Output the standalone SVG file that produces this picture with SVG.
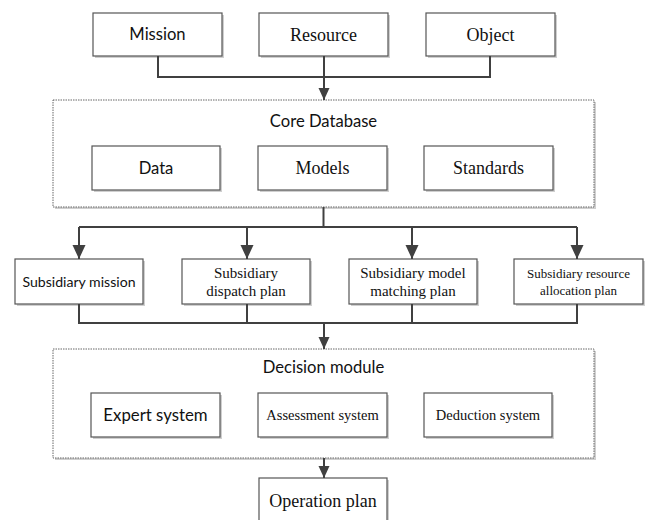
<svg xmlns="http://www.w3.org/2000/svg" width="646" height="520" viewBox="0 0 646 520">
<style>
.box{fill:#fff;stroke:#555;stroke-width:1.2}
.sh{fill:#cfcfcf}
.grp{fill:#fff;stroke:#666;stroke-width:1;stroke-dasharray:1.5 1}
.con{fill:none;stroke:#404040;stroke-width:2}
.sans{font-family:Lato,"Liberation Sans",sans-serif;fill:#111;text-anchor:middle}
.serif{font-family:"Liberation Serif","Times New Roman",serif;fill:#111;text-anchor:middle}
</style>
<defs>
<marker id="arr" markerUnits="userSpaceOnUse" markerWidth="14" markerHeight="14" refX="14" refY="6.5" orient="auto">
<path d="M0,0 L14,6.5 L0,13 Z" fill="#404040"/>
</marker>
<marker id="arrs" markerUnits="userSpaceOnUse" markerWidth="13" markerHeight="12" refX="12" refY="5.5" orient="auto">
<path d="M0,0 L12,5.5 L0,11 Z" fill="#404040"/>
</marker>
</defs>
<rect width="646" height="520" fill="#fff"/>

<g id="mission"><rect class="sh" x="95" y="15" width="129" height="43"/><rect class="box" x="93" y="13" width="129" height="43"/><text class="sans" x="157.5" y="40" font-size="16.6">Mission</text></g>
<g id="resource"><rect class="sh" x="261" y="15" width="129" height="43"/><rect class="box" x="259" y="13" width="129" height="43"/><text class="serif" x="323.5" y="40.5" font-size="18">Resource</text></g>
<g id="object"><rect class="sh" x="428" y="15" width="129" height="43"/><rect class="box" x="426" y="13" width="129" height="43"/><text class="serif" x="490.5" y="40.5" font-size="18">Object</text></g>

<g id="core-database"><rect class="sh" x="55" y="102" width="541" height="107"/><rect class="grp" x="53" y="100" width="541" height="107"/><text class="sans" x="323.5" y="127" font-size="16.6">Core Database</text></g>
<g id="data"><rect class="sh" x="94" y="148" width="128" height="44"/><rect class="box" x="92" y="146" width="128" height="44"/><text class="sans" x="156" y="174" font-size="16.6">Data</text></g>
<g id="models"><rect class="sh" x="260" y="148" width="129" height="44"/><rect class="box" x="258" y="146" width="129" height="44"/><text class="serif" x="322.5" y="174" font-size="18">Models</text></g>
<g id="standards"><rect class="sh" x="426" y="148" width="129" height="44"/><rect class="box" x="424" y="146" width="129" height="44"/><text class="serif" x="488.5" y="174" font-size="18">Standards</text></g>

<g id="sub-mission"><rect class="sh" x="17" y="261" width="128" height="45"/><rect class="box" x="15" y="259" width="128" height="45"/><text class="sans" x="79" y="286.5" font-size="14.1">Subsidiary mission</text></g>
<g id="sub-dispatch"><rect class="sh" x="184" y="261" width="128" height="45"/><rect class="box" x="182" y="259" width="128" height="45"/><text class="serif" x="246" y="278" font-size="15">Subsidiary</text><text class="serif" x="246" y="296" font-size="15">dispatch plan</text></g>
<g id="sub-model"><rect class="sh" x="351" y="261" width="128" height="45"/><rect class="box" x="349" y="259" width="128" height="45"/><text class="serif" x="413" y="278" font-size="15">Subsidiary model</text><text class="serif" x="413" y="296" font-size="15">matching plan</text></g>
<g id="sub-resource"><rect class="sh" x="516" y="261" width="129" height="45"/><rect class="box" x="514" y="259" width="129" height="45"/><text class="serif" x="578.5" y="277.5" font-size="13">Subsidiary resource</text><text class="serif" x="578.5" y="294.5" font-size="13">allocation plan</text></g>

<g id="decision-module"><rect class="sh" x="55" y="351" width="541" height="109"/><rect class="grp" x="53" y="349" width="541" height="109"/><text class="sans" x="323.5" y="373" font-size="16.6">Decision module</text></g>
<g id="expert"><rect class="sh" x="93" y="395" width="129" height="44"/><rect class="box" x="91" y="393" width="129" height="44"/><text class="sans" x="155.5" y="421" font-size="16.8">Expert system</text></g>
<g id="assessment"><rect class="sh" x="260" y="395" width="129" height="44"/><rect class="box" x="258" y="393" width="129" height="44"/><text class="serif" x="322.5" y="420" font-size="14.5">Assessment system</text></g>
<g id="deduction"><rect class="sh" x="426" y="395" width="128" height="44"/><rect class="box" x="424" y="393" width="128" height="44"/><text class="serif" x="488" y="420" font-size="14.5">Deduction system</text></g>

<g id="operation-plan"><rect class="sh" x="261" y="480" width="128" height="44"/><rect class="box" x="259" y="478" width="128" height="44"/><text class="serif" x="323" y="507" font-size="18">Operation plan</text></g>

<g id="connectors">
<path class="con" d="M158 56 V77 H490 V56"/>
<path class="con" d="M324 56 V100" marker-end="url(#arrs)"/>
<path class="con" d="M323.5 207 V227"/>
<path class="con" d="M79 227 H577"/>
<path class="con" d="M79 227 V259" marker-end="url(#arr)"/>
<path class="con" d="M247 227 V259" marker-end="url(#arr)"/>
<path class="con" d="M412 227 V259" marker-end="url(#arr)"/>
<path class="con" d="M577 227 V259" marker-end="url(#arr)"/>
<path class="con" d="M79 304 V323 H577 V304"/>
<path class="con" d="M247 304 V323"/>
<path class="con" d="M412 304 V323"/>
<path class="con" d="M324 323 V349" marker-end="url(#arrs)"/>
<path class="con" d="M324 458 V478" marker-end="url(#arrs)"/>
</g>
</svg>
